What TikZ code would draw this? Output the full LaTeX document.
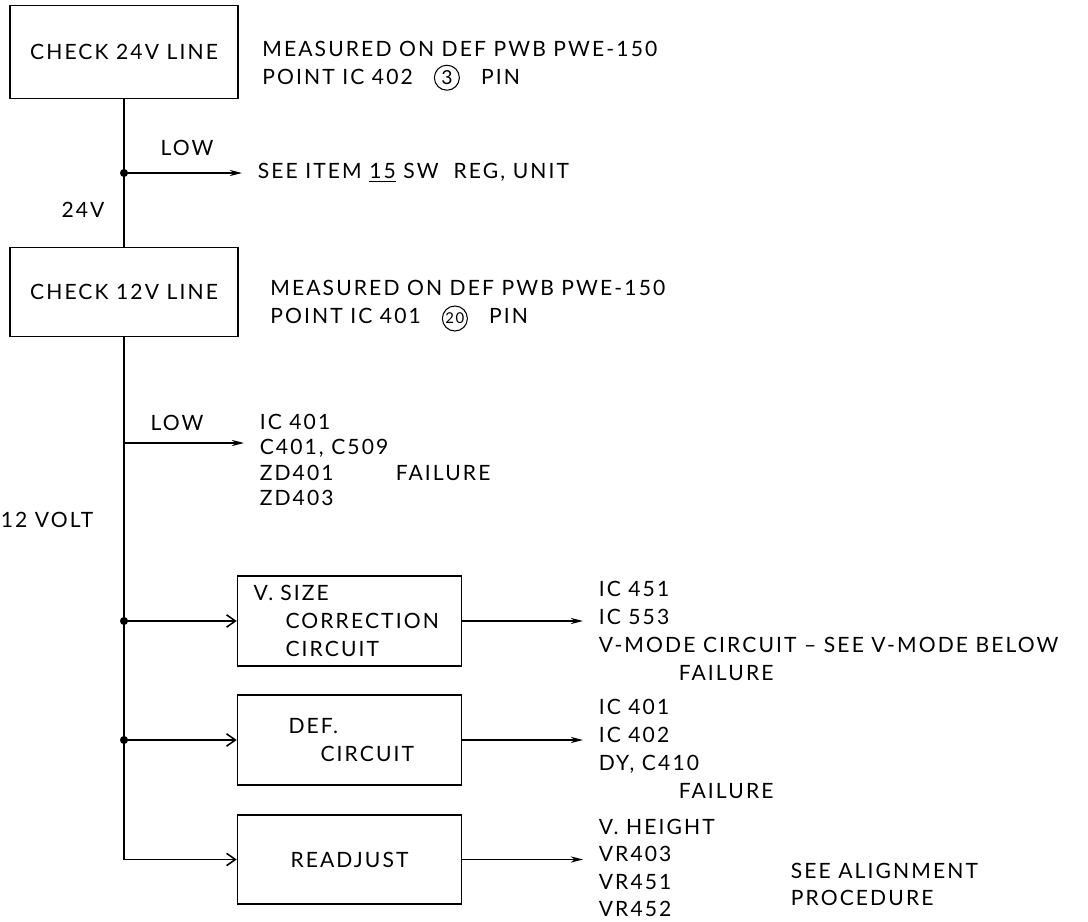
\documentclass[tikz,border=0pt]{standalone}
\usepackage{fontspec}
\setmainfont{Lato}[LetterSpace=10]
\usetikzlibrary{arrows.meta}

% circled pin number
\newcommand{\pinmark}[1]{\tikz[baseline=(p.base)]\node[draw,circle,inner sep=0pt,minimum size=0.5cm,line width=0.6pt,font=\fontsize{11}{11}\selectfont](p){#1};}

\begin{document}
\begin{tikzpicture}[x=0.02cm, y=-0.02cm, line width=0.9pt,
  every node/.style={font=\fontsize{12}{16}\selectfont},
  box/.style={draw, line width=0.9pt, inner ysep=0, inner xsep=0.32cm, align=left},
  note/.style={align=left, inner sep=0, anchor=west},
  inarr/.style={-{Straight Barb[length=5pt,width=7pt]}},
  outarr/.style={-{Stealth[length=7pt,width=3.5pt]}, shorten >=0.3cm}]
  \useasboundingbox (0,0) rectangle (1088,922);

  % check boxes
  \node[box, minimum width=4.56cm, minimum height=1.86cm] (chk24) at (124,52) {CHECK 24V LINE};
  \node[box, minimum width=4.56cm, minimum height=1.78cm] (chk12) at (124,292) {CHECK 12V LINE};
  % circuit boxes
  \node[box, text width=3.84cm, minimum height=1.8cm] (vsize) at (349.5,621)
    {V. SIZE\\\hspace*{0.64cm}CORRECTION\\\hspace*{0.64cm}CIRCUIT};
  \node[box, text width=3.84cm, minimum height=1.8cm] (def) at (349.5,740)
    {\hspace*{0.7cm}DEF.\\\hspace*{1.34cm}CIRCUIT};
  \node[box, text width=3.84cm, minimum height=1.78cm, align=center] (adj) at (349.5,859.5) {READJUST};

  % notes
  \node[note] (m24) at (262,66) {MEASURED ON DEF PWB PWE-150\\POINT IC 402\quad\pinmark{3}\quad PIN};
  \node[note] (m12) at (270,306)
    {MEASURED ON DEF PWB PWE-150\\POINT IC 401\quad\pinmark{\fontsize{8.5}{8.5}\selectfont 20}\quad PIN};
  \node[note] (see15) at (257,173) {SEE ITEM \underline{15} SW\ \ REG, UNIT};
  \node (low1) at (187,148) {LOW};
  \node (v24) at (83,210) {24V};
  \node (low2) at (177,423) {LOW};
  \node[note, font=\fontsize{12}{14.5}\selectfont] (c12) at (259,460)
    {IC 401\\C401, C509\\\makebox[2.72cm][l]{ZD401}FAILURE\\ZD403};
  \node[note] (v12) at (0,520) {12 VOLT};
  \node[note] (fvs) at (598,631)
    {IC 451\\IC 553\\V-MODE CIRCUIT -- SEE V-MODE BELOW\\\hspace*{1.6cm}FAILURE};
  \node[note] (fdef) at (598,749) {IC 401\\IC 402\\DY, C410\\\hspace*{1.6cm}FAILURE};
  \node[note, font=\fontsize{12}{15.5}\selectfont] (fadj) at (598,868) {V. HEIGHT\\VR403\\VR451\\VR452};
  \node[note, font=\fontsize{12}{15.4}\selectfont] (align) at (790,884) {SEE ALIGNMENT\\PROCEDURE};

  % junctions on the supply line
  \coordinate (j1) at (124,173);
  \coordinate (j4) at (124,443);
  \coordinate (j2) at (chk12.south |- vsize.west);
  \coordinate (j3) at (chk12.south |- def.west);

  \draw (chk24.south) -- (chk12.north);
  \draw[inarr] (chk12.south) |- (adj.west);
  \draw[outarr] (j1) -- (j1 -| see15.west);
  \draw[outarr] (j4) -- (j4 -| c12.west);
  \draw[inarr] (j2) -- (vsize.west);
  \draw[inarr] (j3) -- (def.west);
  \draw[outarr] (vsize.east) -- (vsize.east -| fvs.west);
  \draw[outarr] (def.east) -- (def.east -| fdef.west);
  \draw[outarr] (adj.east) -- (adj.east -| fadj.west);
  \foreach \j in {j1,j2,j3} \fill (\j) circle[radius=2.3pt];
\end{tikzpicture}
\end{document}
